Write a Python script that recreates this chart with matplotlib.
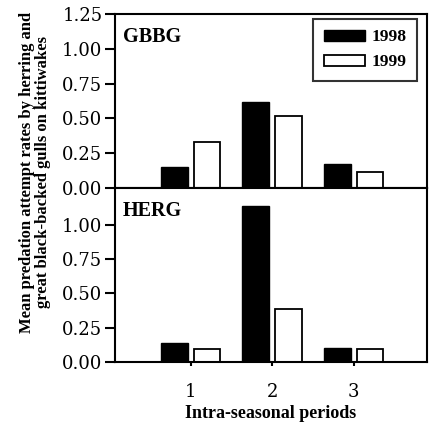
import matplotlib
matplotlib.use("Agg")
import matplotlib.pyplot as plt
import numpy as np

periods = [1, 2, 3]
period_labels = ["1", "2", "3"]
gbbg_1998 = [0.15, 0.62, 0.17]
gbbg_1999 = [0.33, 0.52, 0.115]
herg_1998 = [0.14, 1.14, 0.10]
herg_1999 = [0.095, 0.39, 0.095]
years = ["1998", "1999"]

tick_font = {"family": "DejaVu Serif", "size": 13}
bold_font = {"family": "Liberation Serif", "weight": "bold"}

fig = plt.figure(figsize=(4.3, 4.25), dpi=100)
L, W = 115/430, (427-115)/430
ax1 = fig.add_axes([L, 1-188/425, W, (188-14)/425])
ax2 = fig.add_axes([L, 1-362/425, W, (362-188)/425])

x = np.array(periods, dtype=float)
off, bw = 0.2, 0.33
lw = 1.5

def draw(ax, v98, v99, ylim, yticks, label):
    ax.bar(x - off, v98, bw, color="black", edgecolor="black", linewidth=1.0, label=years[0])
    ax.bar(x + off, v99, bw, color="white", edgecolor="black", linewidth=1.3, label=years[1])
    ax.set_xlim(0.07, 3.9)
    ax.set_ylim(*ylim)
    ax.set_yticks(yticks)
    ax.set_yticklabels([f"{t:.2f}" for t in yticks], fontdict=tick_font)
    for s in ax.spines.values():
        s.set_linewidth(lw)
    ax.tick_params(axis="y", direction="out", length=7, width=lw, pad=2)
    ax.text(0.025, 0.865, label, transform=ax.transAxes, fontsize=14.5, ha="left", va="center", **bold_font)

draw(ax1, gbbg_1998, gbbg_1999, (0, 1.25), [0, 0.25, 0.5, 0.75, 1.0, 1.25], "GBBG")
draw(ax2, herg_1998, herg_1999, (0, 1.27), [0, 0.25, 0.5, 0.75, 1.0], "HERG")

ax1.set_xticks([])
ax2.set_xticks(periods)
ax2.set_xticklabels(period_labels, fontdict=tick_font)
ax2.tick_params(axis="x", direction="out", length=3, width=lw, pad=12)
ax2.set_xlabel("Intra-seasonal periods", fontsize=13, labelpad=3, **bold_font)

leg = ax1.legend(loc="upper right", bbox_to_anchor=(0.968, 0.971), borderaxespad=0, frameon=True, fancybox=False,
                 edgecolor="black", handlelength=2.35, handleheight=0.6, handletextpad=0.4,
                 borderpad=0.6, labelspacing=0.5, prop={"family": "Liberation Serif", "weight": "bold", "size": 12.5})
leg.get_frame().set_linewidth(1.5)

fig.text(35/430, 1-172/425, "Mean predation attempt rates by herring and\ngreat black-backed gulls on kittiwakes",
         rotation=90, ha="center", va="center", fontsize=12, linespacing=1.05, **bold_font)

fig.savefig("out.png", dpi=100)
